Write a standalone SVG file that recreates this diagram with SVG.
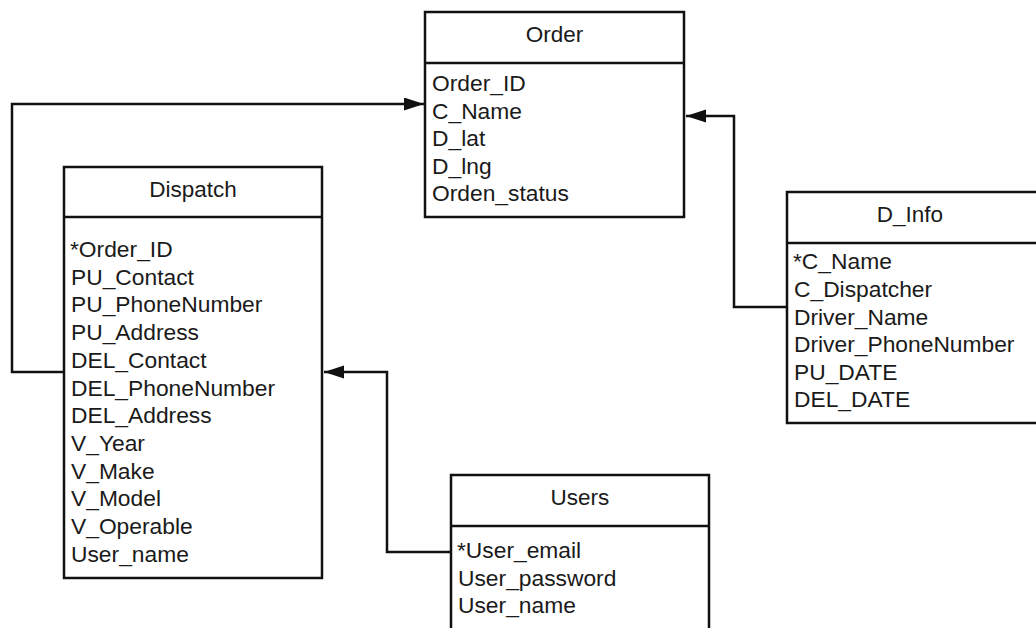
<svg xmlns="http://www.w3.org/2000/svg" width="1036" height="628" viewBox="0 0 1036 628">
  <defs>
    <style>
      .box { fill: #ffffff; stroke: #111111; stroke-width: 2.5; }
      .sep { stroke: #111111; stroke-width: 2.5; }
      .title { font-family: "Liberation Sans", Arial, sans-serif; font-size: 22.5px; fill: #1a1a1a; text-anchor: middle; }
      .field { font-family: "Liberation Sans", Arial, sans-serif; font-size: 22.8px; fill: #1a1a1a; }
      .link { fill: none; stroke: #111111; stroke-width: 2.5; }
    </style>
    <marker id="arrow" markerUnits="userSpaceOnUse" markerWidth="22" markerHeight="14" refX="20" refY="6.5" orient="auto">
      <path d="M0,0 L20,6.5 L0,13 Z" fill="#111111"/>
    </marker>
  </defs>
  <rect x="0" y="0" width="1036" height="628" fill="#ffffff"/>

  <!-- relationship lines -->
  <g id="connectors">
    <path class="link" d="M64,372 H12 V104 H424" marker-end="url(#arrow)"/>
    <path class="link" d="M787,307 H734 V116 H686" marker-end="url(#arrow)"/>
    <path class="link" d="M451,552 H387 V372 H324" marker-end="url(#arrow)"/>
  </g>

  <!-- Order table -->
  <g id="order">
    <rect class="box" x="425" y="12" width="259" height="205"/>
    <line class="sep" x1="425" y1="63" x2="684" y2="63"/>
    <text class="title" x="554.5" y="42">Order</text>
    <text class="field" x="432" y="91">Order_ID</text>
    <text class="field" x="432" y="118.5">C_Name</text>
    <text class="field" x="432" y="146">D_lat</text>
    <text class="field" x="432" y="173.5">D_lng</text>
    <text class="field" x="432" y="201">Orden_status</text>
  </g>

  <!-- Dispatch table -->
  <g id="dispatch">
    <rect class="box" x="64" y="167" width="258" height="411"/>
    <line class="sep" x1="64" y1="217" x2="322" y2="217"/>
    <text class="title" x="193" y="197">Dispatch</text>
    <text class="field" x="70" y="257">*Order_ID</text>
    <text class="field" x="71" y="284.7">PU_Contact</text>
    <text class="field" x="71" y="312.4">PU_PhoneNumber</text>
    <text class="field" x="71" y="340.1">PU_Address</text>
    <text class="field" x="71" y="367.8">DEL_Contact</text>
    <text class="field" x="71" y="395.5">DEL_PhoneNumber</text>
    <text class="field" x="71" y="423.2">DEL_Address</text>
    <text class="field" x="71" y="450.9">V_Year</text>
    <text class="field" x="71" y="478.6">V_Make</text>
    <text class="field" x="71" y="506.3">V_Model</text>
    <text class="field" x="71" y="534">V_Operable</text>
    <text class="field" x="71" y="561.7">User_name</text>
  </g>

  <!-- D_Info table -->
  <g id="d-info">
    <rect class="box" x="787" y="192" width="260" height="231"/>
    <line class="sep" x1="787" y1="243" x2="1047" y2="243"/>
    <text class="title" x="910" y="222">D_Info</text>
    <text class="field" x="793" y="269.3">*C_Name</text>
    <text class="field" x="794" y="297">C_Dispatcher</text>
    <text class="field" x="794" y="324.7">Driver_Name</text>
    <text class="field" x="794" y="352.3">Driver_PhoneNumber</text>
    <text class="field" x="794" y="380">PU_DATE</text>
    <text class="field" x="794" y="407.3">DEL_DATE</text>
  </g>

  <!-- Users table -->
  <g id="users">
    <rect class="box" x="451" y="475" width="258" height="170"/>
    <line class="sep" x1="451" y1="526" x2="709" y2="526"/>
    <text class="title" x="580" y="505">Users</text>
    <text class="field" x="457" y="558.3">*User_email</text>
    <text class="field" x="458" y="586">User_password</text>
    <text class="field" x="458" y="613.3">User_name</text>
  </g>
</svg>
